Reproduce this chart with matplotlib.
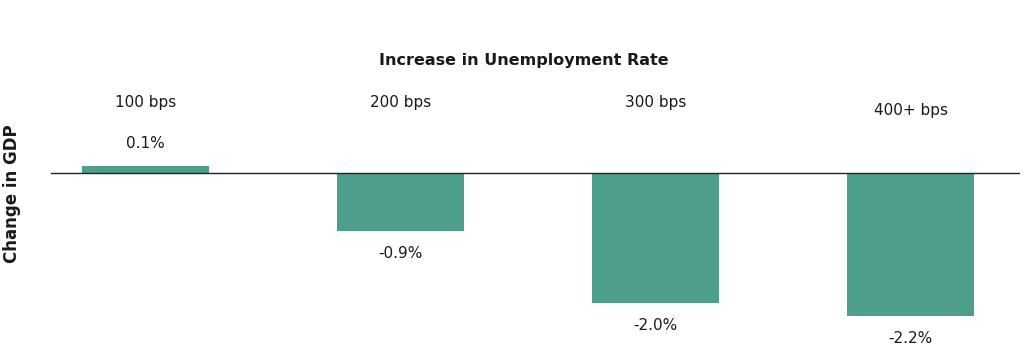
import matplotlib
matplotlib.use("Agg")
import matplotlib.pyplot as plt

categories = ["100 bps", "200 bps", "300 bps", "400+ bps"]
values = [0.1, -0.9, -2.0, -2.2]
value_labels = ["0.1%", "-0.9%", "-2.0%", "-2.2%"]
title = "Increase in Unemployment Rate"
ylabel = "Change in GDP"

W, H = 1023, 347
fig = plt.figure(figsize=(W / 100, H / 100), dpi=100)
plt.rcParams['font.family'] = ['DejaVu Sans']
ax = fig.add_axes([51 / W, 0, (1020 - 51) / W, 1])

bar_color = "#4d9e8a"
text_color = "#1a1a1a"
x = list(range(len(categories)))
ax.bar(x, values, width=0.5, color=bar_color, zorder=2)
ax.axhline(0, color="#222222", linewidth=1.0, zorder=3)

ax.set_xlim((51 - 145.5) / 255, (1020 - 145.5) / 255)
ax.set_ylim(-(H - 172.5) / 65, 172.5 / 65)
ax.axis("off")

# category labels above chart
cat_y = [1.07, 1.07, 1.07, 0.96]
for xi, c, cy in zip(x, categories, cat_y):
    ax.text(xi, cy, c, ha="center", va="center", fontsize=11, color=text_color)

# value labels
for xi, v, lab in zip(x, values, value_labels):
    off = 16.5 if v >= 0 else -16.5
    ax.annotate(lab, (xi, v), xytext=(0, off), textcoords="offset points",
                ha="center", va="center", fontsize=11, color=text_color)

fig.text(524 / W, 1 - 61 / H, title, ha="center", va="center",
         fontsize=11.5, fontweight="bold", color=text_color)

fig.text(12 / W, 1 - 194 / H, ylabel, rotation=90, ha="center", va="center",
         fontsize=12, fontweight="bold", color=text_color)

fig.savefig("out.png", dpi=100)
